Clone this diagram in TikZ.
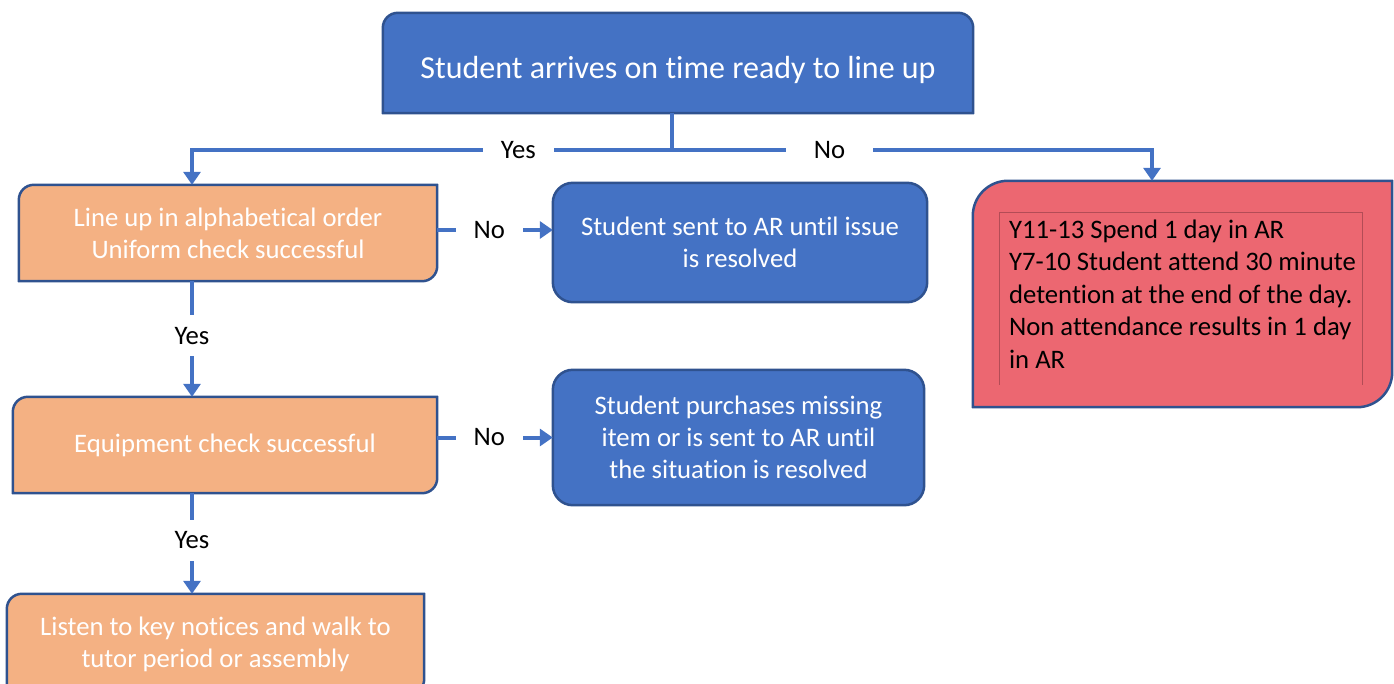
\documentclass[tikz,border=0pt]{standalone}
\usepackage{fontspec}
\setmainfont{Carlito}[Ligatures=NoCommon]
\usetikzlibrary{arrows.meta,backgrounds}
\definecolor{boxblue}{HTML}{4472C4}
\definecolor{edgeblue}{HTML}{2F528F}
\definecolor{boxorange}{HTML}{F4B183}
\definecolor{boxred}{HTML}{EC6771}
\definecolor{innerred}{HTML}{B34C56}
% outline of a node with its own radius per corner: nw, ne, se, sw
\newcommand\cornerbox[5]{([xshift=#2]#1.north west) -- ([xshift=-#3]#1.north east)
  arc[start angle=90,end angle=0,radius=#3] -- ([yshift=#4]#1.south east)
  arc[start angle=0,end angle=-90,radius=#4] -- ([xshift=#5]#1.south west)
  arc[start angle=-90,end angle=-180,radius=#5] -- ([yshift=-#2]#1.north west)
  arc[start angle=180,end angle=90,radius=#2] -- cycle}
\tikzset{
  stage/.style={text=white, align=center, inner sep=0pt,
    font=\fontsize{26.7}{32}\selectfont},
  outline/.style={draw=edgeblue, line width=2.5pt},
  line/.style={draw=boxblue, line width=4pt},
  flow/.style={line, -{Triangle[length=13pt,width=17pt]}},
  lbl/.style={fill=white, text=black, inner xsep=18pt, inner ysep=12pt,
    font=\fontsize{26.7}{32}\selectfont}
}
\begin{document}
\begin{tikzpicture}[x=1pt,y=1pt]
\useasboundingbox (0,0) rectangle (1394,-683);
% boxes
\node[stage, minimum width=590pt, minimum height=100pt, text height=36pt,
  text depth=5pt, font=\fontsize{32}{38}\selectfont] (arrive) at (678,-63)
  {Student arrives on time ready to line up};
\node[stage, minimum width=418pt, minimum height=96pt] (lineup) at (228,-233)
  {Line up in alphabetical order\\Uniform check successful};
\node[stage, minimum width=374pt, minimum height=119pt] (sentar) at (740,-242.5)
  {Student sent to AR until issue\\is resolved};
\node[stage, minimum width=424pt, minimum height=96pt] (equip) at (225,-445)
  {Equipment check successful};
\node[stage, minimum width=371pt, minimum height=135pt] (purchase) at (738.5,-437.5)
  {Student purchases missing\\item or is sent to AR until\\the situation is resolved};
\node[stage, minimum width=417pt, minimum height=100pt] (listen) at (215.5,-644)
  {Listen to key notices and walk to\\tutor period or assembly};
\node[stage, text=black, align=left, font=\fontsize{26.7}{32.5}\selectfont,
  minimum width=419pt, minimum height=226pt] (penalty) at (1182.5,-294)
  {Y11-13 Spend 1 day in AR\\Y7-10 Student attend 30 minute\\detention at the end of the day.\\Non attendance results in 1 day\\in AR};
\begin{scope}[on background layer]
  \draw[outline, fill=boxblue] \cornerbox{arrive}{15pt}{15pt}{0.01pt}{0.01pt};
  \draw[outline, fill=boxorange] \cornerbox{lineup}{15pt}{0.01pt}{15pt}{0.01pt};
  \draw[outline, fill=boxblue] \cornerbox{sentar}{20pt}{20pt}{20pt}{20pt};
  \draw[outline, fill=boxorange] \cornerbox{equip}{15pt}{0.01pt}{15pt}{0.01pt};
  \draw[outline, fill=boxblue] \cornerbox{purchase}{20pt}{20pt}{20pt}{20pt};
  \draw[outline, fill=boxorange] \cornerbox{listen}{15pt}{0.01pt}{15pt}{0.01pt};
  \draw[outline, fill=boxred] \cornerbox{penalty}{35pt}{0.01pt}{35pt}{0.01pt};
  \draw[innerred, line width=1pt] ([shift={(27pt,-204pt)}]penalty.north west)
    -- ([shift={(27pt,-32pt)}]penalty.north west)
    -- ([shift={(390pt,-32pt)}]penalty.north west)
    -- ([shift={(390pt,-204pt)}]penalty.north west);
\end{scope}
% connectors
\coordinate (split) at (672,-150);
\coordinate (col) at (192,0);
\draw[line] (split |- arrive.south) -- (split);
\draw[flow] (split) -| (col |- lineup.north) node[lbl, pos=0.16] {Yes};
\draw[flow] (split) -| ([xshift=-30.5pt]penalty.north)
  node[lbl, pos=0.164, inner xsep=28pt] {No};
\draw[flow] ([yshift=3pt]lineup.east) -- ([yshift=3pt]lineup.east -| sentar.west)
  node[lbl, pos=0.45] {No};
\draw[flow] (purchase.west -| equip.east) -- (purchase.west) node[lbl, pos=0.45] {No};
\draw[flow] (col |- lineup.south) -- (col |- equip.north) node[lbl, pos=0.47] {Yes};
\draw[flow] (col |- equip.south) -- (col |- listen.north) node[lbl, pos=0.47] {Yes};
\end{tikzpicture}
\end{document}
